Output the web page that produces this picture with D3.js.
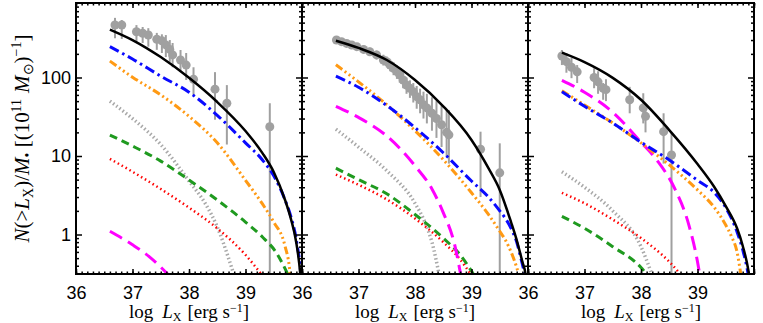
<!DOCTYPE html>
<html>
<head>
<meta charset="utf-8">
<script src="https://cdn.jsdelivr.net/npm/d3@7"></script>
<style>
  body { margin: 0; background: #fff; }
  svg { display: block; }
  .tick text { font-family: "Liberation Sans", Arial, sans-serif; font-size: 18px; fill: #000; }
  .tick line { stroke: #000; stroke-width: 1.5; }
  .ttl { font-family: "Liberation Serif", "Times New Roman", serif; fill: #000; }
</style>
</head>
<body>
<svg id="chart" width="763" height="323"></svg>
<script>
// x = log Lx, y = N(>Lx)/M*
var xTicks = [36, 37, 38, 39, 40];
var yTicks = [1, 10, 100];

// panel 1 models
var p1Solid    = [[36.6,408],[37,300],[37.5,182],[38,99],[38.5,48.7],[39,20.8],[39.3,10.9],[39.5,6.25],[39.7,2.75],[39.8,1.62],[39.9,0.78],[39.97,0.31],[39.99,0.2]];
var p1DashDot  = [[36.6,247],[37,172],[37.5,104],[38,65],[38.5,33],[39,14.7],[39.3,8.9],[39.5,5.6],[39.7,2.75],[39.8,1.72],[39.9,0.85],[39.98,0.31],[40,0.2]];
var p1Dash3Dot = [[36.6,162],[37,101],[37.5,60],[38,32],[38.5,14.7],[39,4.9],[39.3,2.45],[39.5,1.44],[39.7,0.71],[39.79,0.31],[39.81,0.2]];
var p1GrayDot  = [[36.6,50],[37,30],[37.5,14],[38,4.8],[38.3,2.4],[38.5,1.25],[38.7,0.5],[38.8,0.3]];
var p1Dash     = [[36.6,18.5],[37,13.4],[37.5,8.6],[38,4.95],[38.5,2.75],[39,1.44],[39.3,0.93],[39.55,0.58],[39.75,0.31]];
var p1Dot      = [[36.6,9.2],[37,6.3],[37.5,3.8],[38,2.2],[38.5,1.2],[39,0.55],[39.3,0.3]];
var p1LongDash = [[36.6,1.1],[37,0.74],[37.3,0.52],[37.65,0.3]];
// panel 1 observed
var p1ObsL  = [36.69,36.81,37.07,37.18,37.28,37.43,37.52,37.59,37.66,37.71,37.85,37.95,38.08,38.46,38.67,39.43];
var p1ObsN  = [467,467,383,366,348,307,294,260,228,194,167,144,95,71,47,23.6];
var p1ObsHi = [575,540,465,440,425,370,355,347,300,275,224,205,135,117,80,47];
var p1ObsLo = [316,310,283,275,247,225,205,182,158,135,118,93,60,29,14,0.2];

// panel 2 models
var p2Solid    = [[36.6,294],[37,238],[37.5,167],[38,93],[38.5,43],[39,16],[39.3,7.0],[39.5,3.7],[39.7,1.44],[39.8,0.85],[39.9,0.45],[39.96,0.3],[39.98,0.22]];
var p2DashDot  = [[36.6,104],[37,75],[37.5,44],[38,23],[38.5,11],[39,4.8],[39.3,3.0],[39.5,2.0],[39.6,1.6],[39.7,1.2],[39.8,0.8],[39.86,0.55],[39.9,0.42],[39.96,0.28]];
var p2Dash3Dot = [[36.6,145],[37,88],[37.5,45],[38,21],[38.5,9],[39,3.4],[39.3,1.8],[39.5,1.1],[39.6,0.85],[39.7,0.6],[39.8,0.38],[39.86,0.27]];
var p2LongDash = [[36.6,43],[37,31],[37.5,18],[38,7.5],[38.3,3.8],[38.5,1.9],[38.7,0.75],[38.82,0.28]];
var p2GrayDot  = [[36.6,22],[37,13],[37.5,6.5],[38,2.5],[38.2,1.3],[38.3,0.8],[38.43,0.3]];
var p2Dash     = [[36.6,7],[37,5],[37.5,3.3],[38,1.8],[38.5,0.9],[38.8,0.55],[39.05,0.3]];
var p2Dot      = [[36.6,5.8],[37,4.3],[37.5,2.8],[38,1.6],[38.5,0.8],[38.8,0.48],[39,0.3]];
// panel 2 observed
var p2ObsL  = [36.61,36.70,36.79,36.88,36.97,37.09,37.20,37.32,37.44,37.50,37.56,37.62,37.68,37.73,37.79,37.85,37.91,37.97,38.03,38.09,38.15,38.21,38.30,38.38,38.47,38.56,38.60,39.16,39.50];
var p2ObsN  = [300,286,272,259,247,228,213,194,167,159,144,131,119,108,93,80,73,66,57,52,45,41,35,30,25,20,18.6,12.2,6.1];
var p2ObsHi = [330,315,300,285,272,255,240,220,195,185,170,157,143,132,115,100,92,85,78,72,66,62,56,50,44,38,38.5,20.4,14.5];
var p2ObsLo = [272,258,245,233,222,203,188,170,142,135,120,107,96,86,73,62,55,48,40,35,30,26,21,17,13,10,8,3,0.2];

// panel 3 models
var p3Solid    = [[36.6,207],[37,157],[37.5,99],[38,52],[38.5,21.4],[39,7.9],[39.3,4.0],[39.5,2.3],[39.7,1.2],[39.8,0.72],[39.9,0.35],[39.93,0.25]];
var p3LongDash = [[36.6,92],[37,65],[37.5,36],[38,15],[38.3,8.5],[38.6,3.8],[38.85,1.3],[39,0.45],[39.05,0.28]];
var p3DashDot  = [[36.6,66],[37,43],[37.5,26.3],[38,15],[38.5,8.9],[39,4.9],[39.3,3.4],[39.5,2.2],[39.7,1.08],[39.8,0.64],[39.9,0.3],[39.92,0.24]];
var p3Dash3Dot = [[36.6,68],[37,44.6],[37.5,26.3],[38,14.7],[38.5,7.7],[39,3.7],[39.3,2.2],[39.5,1.32],[39.6,0.95],[39.7,0.6],[39.77,0.3],[39.79,0.24]];
var p3GrayDot  = [[36.6,6.3],[37,4],[37.5,2],[38,0.7],[38.2,0.3]];
var p3Dot      = [[36.6,3.4],[37,2.5],[37.5,1.55],[38,0.9],[38.5,0.45],[38.72,0.3]];
var p3Dash     = [[36.6,1.7],[37,1.2],[37.5,0.7],[38,0.38],[38.12,0.3]];
// panel 3 observed
var p3ObsL  = [36.60,36.68,36.77,36.87,37.17,37.24,37.33,37.38,37.80,38.04,38.08,38.40,38.54];
var p3ObsN  = [188,159,135,118,100,88,73,70,52,41,32,20.4,10.3];
var p3ObsHi = [224,205,177,144,131,120,85,95,76,63,42,35,20];
var p3ObsLo = [144,115,98,85,73,62,52,50,35,26,20,8,0.2];

var styles = {
  grayDot:  {stroke: "#a8a8a8", width: 3.5, dash: "1.5,2.5"},
  dash:     {stroke: "#1f9a1f", width: 3,   dash: "8,5"},
  dot:      {stroke: "#ff0000", width: 2.5, dash: "1.5,3"},
  longDash: {stroke: "#ff00ff", width: 3,   dash: "14,7"},
  dash3Dot: {stroke: "#ff9a14", width: 3,   dash: "8,3,2,3,2,3,2,3"},
  dashDot:  {stroke: "#0a0aff", width: 3,   dash: "10,4,2.5,4"},
  solid:    {stroke: "#000000", width: 2.5, dash: null}
};

var panels = [
  {models: {grayDot: p1GrayDot, dash: p1Dash, dot: p1Dot, longDash: p1LongDash, dash3Dot: p1Dash3Dot, dashDot: p1DashDot, solid: p1Solid},
   obs: [p1ObsL, p1ObsN, p1ObsLo, p1ObsHi]},
  {models: {grayDot: p2GrayDot, dash: p2Dash, dot: p2Dot, longDash: p2LongDash, dash3Dot: p2Dash3Dot, dashDot: p2DashDot, solid: p2Solid},
   obs: [p2ObsL, p2ObsN, p2ObsLo, p2ObsHi]},
  {models: {grayDot: p3GrayDot, dash: p3Dash, dot: p3Dot, longDash: p3LongDash, dash3Dot: p3Dash3Dot, dashDot: p3DashDot, solid: p3Solid},
   obs: [p3ObsL, p3ObsN, p3ObsLo, p3ObsHi]}
];

var svg = d3.select("#chart");
var yTop = 3, yBottom = 274, pw = 226;
var lefts = [76, 302, 528];

var y = d3.scaleLog().domain([0.314, 889]).range([yBottom, yTop]);
var yMinor = y.ticks().filter(function(d){ return yTicks.indexOf(d) < 0; });
var xMinor = d3.range(360, 401).map(function(d){ return d / 10; });

panels.forEach(function(p, i) {
  var x = d3.scaleLinear().domain([36, 40]).range([lefts[i], lefts[i] + pw]);
  var g = svg.append("g");

  svg.append("clipPath").attr("id", "clip" + i)
    .append("rect").attr("x", lefts[i]).attr("y", yTop).attr("width", pw).attr("height", yBottom - yTop);
  var plot = g.append("g").attr("clip-path", "url(#clip" + i + ")");

  // observed points with error bars
  var L = p.obs[0], N = p.obs[1], lo = p.obs[2], hi = p.obs[3];
  var idx = d3.range(L.length);
  plot.selectAll("line.err").data(idx).enter().append("line")
    .attr("x1", function(k){ return x(L[k]); }).attr("x2", function(k){ return x(L[k]); })
    .attr("y1", function(k){ return y(Math.max(lo[k], 0.2)); }).attr("y2", function(k){ return y(hi[k]); })
    .attr("stroke", "#a0a0a0").attr("stroke-width", 2);
  plot.selectAll("circle").data(idx).enter().append("circle")
    .attr("cx", function(k){ return x(L[k]); }).attr("cy", function(k){ return y(N[k]); })
    .attr("r", 4.5).attr("fill", "#a0a0a0");

  var line = d3.line().x(function(d){ return x(d[0]); }).y(function(d){ return y(d[1]); }).curve(d3.curveMonotoneX);
  Object.keys(styles).forEach(function(k) {
    var s = styles[k];
    plot.append("path").datum(p.models[k]).attr("d", line)
      .attr("fill", "none").attr("stroke", s.stroke).attr("stroke-width", s.width)
      .attr("stroke-dasharray", s.dash);
  });

  // axes, ticks inward on all four sides
  function clean(sel) { sel.select(".domain").remove(); }
  g.append("g").attr("transform", "translate(0," + yBottom + ")")
    .call(d3.axisBottom(x).tickValues(xMinor).tickSize(-2.5).tickFormat("")).call(clean);
  g.append("g").attr("transform", "translate(0," + yBottom + ")")
    .call(d3.axisBottom(x).tickValues(xTicks).tickSize(-5).tickPadding(12)
      .tickFormat(function(d){ return d === 40 ? "" : d; })).call(clean);
  g.append("g").attr("transform", "translate(0," + yTop + ")")
    .call(d3.axisTop(x).tickValues(xMinor).tickSize(-2.5).tickFormat("")).call(clean);
  g.append("g").attr("transform", "translate(0," + yTop + ")")
    .call(d3.axisTop(x).tickValues(xTicks).tickSize(-5).tickFormat("")).call(clean);

  g.append("g").attr("transform", "translate(" + lefts[i] + ",0)")
    .call(d3.axisLeft(y).tickValues(yMinor).tickSize(-3).tickFormat("")).call(clean);
  g.append("g").attr("transform", "translate(" + lefts[i] + ",0)")
    .call(d3.axisLeft(y).tickValues(yTicks).tickSize(-6).tickPadding(5)
      .tickFormat(i === 0 ? d3.format("d") : "")).call(clean);
  g.append("g").attr("transform", "translate(" + (lefts[i] + pw) + ",0)")
    .call(d3.axisRight(y).tickValues(yMinor).tickSize(-3).tickFormat("")).call(clean);
  g.append("g").attr("transform", "translate(" + (lefts[i] + pw) + ",0)")
    .call(d3.axisRight(y).tickValues(yTicks).tickSize(-6).tickFormat("")).call(clean);

  g.append("rect").attr("x", lefts[i]).attr("y", yTop).attr("width", pw).attr("height", yBottom - yTop)
    .attr("fill", "none").attr("stroke", "#000").attr("stroke-width", 2);

  // x title
  var t = g.append("text").attr("class", "ttl").attr("font-size", "19px")
    .attr("x", lefts[i] + pw / 2).attr("y", 318).attr("text-anchor", "middle");
  t.append("tspan").text("log");
  t.append("tspan").attr("dx", 9).attr("font-style", "italic").text("L");
  t.append("tspan").attr("font-size", "12px").attr("dy", 3).text("X");
  t.append("tspan").attr("dx", 6).attr("dy", -3).text("[erg  s");
  t.append("tspan").attr("font-size", "12px").attr("dy", -6).text("\u22121");
  t.append("tspan").attr("dy", 6).text("]");
});

// y title
var yt = svg.append("text").attr("class", "ttl").attr("font-size", "21px").attr("text-anchor", "middle")
  .attr("transform", "translate(29," + ((yTop + yBottom) / 2) + ") rotate(-90)");
yt.append("tspan").attr("font-style", "italic").text("N");
yt.append("tspan").text("(>");
yt.append("tspan").attr("font-style", "italic").text("L");
yt.append("tspan").attr("font-size", "14px").attr("dy", 4).text("X");
yt.append("tspan").attr("dy", -4).text(")/");
yt.append("tspan").attr("font-style", "italic").text("M");
yt.append("tspan").attr("font-size", "14px").attr("dy", 3).text("\u2022");
yt.append("tspan").attr("dy", -3).text(" [(10");
yt.append("tspan").attr("font-size", "14px").attr("dy", -8).text("11");
yt.append("tspan").attr("dy", 8).attr("dx", 6).attr("font-style", "italic").text("M");
yt.append("tspan").attr("font-size", "14px").attr("dy", 4).text("\u2299");
yt.append("tspan").attr("dy", -4).text(")");
yt.append("tspan").attr("font-size", "14px").attr("dy", -8).text("\u22121");
yt.append("tspan").attr("dy", 8).text("]");
</script>
</body>
</html>
